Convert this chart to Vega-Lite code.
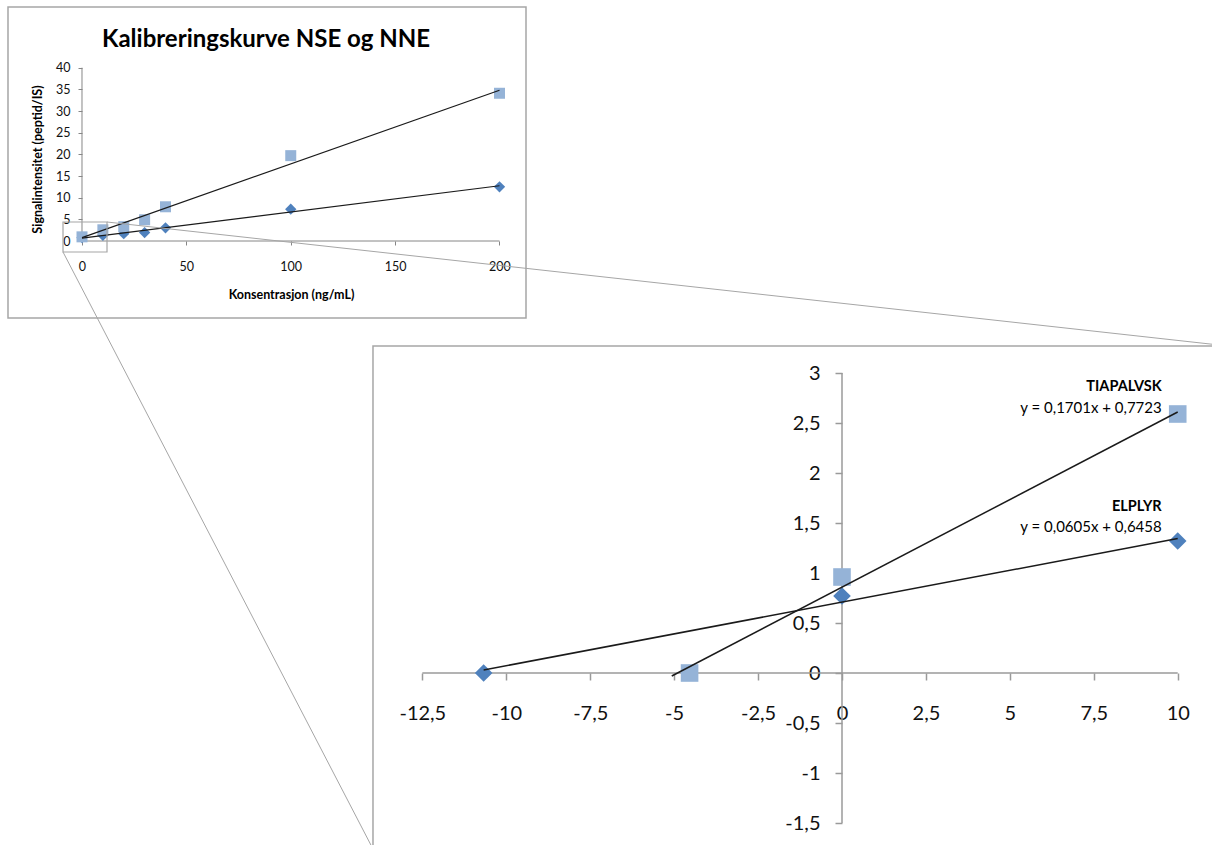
{
  "$schema": "https://vega.github.io/schema/vega-lite/v6.json",
  "width": 1212,
  "height": 845,
  "padding": 0,
  "autosize": {"type": "none"},
  "background": "white",
  "config": {"view": {"stroke": null}, "font": "Lato"},
  "title": {"text": "Kalibreringskurve NSE og NNE", "anchor": "middle", "frame": "group", "orient": "top", "offset": 0, "dx": -340, "dy": 71, "baseline": "alphabetic", "fontSize": 24, "font": "Lato", "fontWeight": "bold", "color": "#000"},
  "datasets": {
    "smallPts": [
      {"series": "ELPLYR", "conc": 0, "signal": 0.77},
      {"series": "ELPLYR", "conc": 10, "signal": 1.32},
      {"series": "ELPLYR", "conc": 20, "signal": 1.7},
      {"series": "ELPLYR", "conc": 30, "signal": 1.95},
      {"series": "ELPLYR", "conc": 40, "signal": 3.05},
      {"series": "ELPLYR", "conc": 100, "signal": 7.35},
      {"series": "ELPLYR", "conc": 200, "signal": 12.5},
      {"series": "TIAPALVSK", "conc": 0, "signal": 0.96},
      {"series": "TIAPALVSK", "conc": 10, "signal": 2.59},
      {"series": "TIAPALVSK", "conc": 20, "signal": 3.3},
      {"series": "TIAPALVSK", "conc": 30, "signal": 4.9},
      {"series": "TIAPALVSK", "conc": 40, "signal": 7.9},
      {"series": "TIAPALVSK", "conc": 100, "signal": 19.7},
      {"series": "TIAPALVSK", "conc": 200, "signal": 34.1}
    ],
    "smallTrend": [
      {"series": "ELPLYR", "conc": 0, "signal": 0.6458},
      {"series": "ELPLYR", "conc": 200, "signal": 12.7458},
      {"series": "TIAPALVSK", "conc": 0, "signal": 0.7723},
      {"series": "TIAPALVSK", "conc": 200, "signal": 34.7923}
    ],
    "bigPts": [
      {"series": "ELPLYR", "x": -10.674, "y": 0},
      {"series": "ELPLYR", "x": 0, "y": 0.77},
      {"series": "ELPLYR", "x": 10, "y": 1.32},
      {"series": "TIAPALVSK", "x": -4.54, "y": 0},
      {"series": "TIAPALVSK", "x": 0, "y": 0.96},
      {"series": "TIAPALVSK", "x": 10, "y": 2.59}
    ],
    "bigTrend": [
      {"series": "ELPLYR", "x": -10.674, "y": 0.03},
      {"series": "ELPLYR", "x": 10, "y": 1.345},
      {"series": "TIAPALVSK", "x": -5.07, "y": -0.03},
      {"series": "TIAPALVSK", "x": 10, "y": 2.61}
    ]
  },
  "layer": [
    {
      "data": {"values": [{}]},
      "mark": {"type": "rect", "fillOpacity": 0, "stroke": "#A6A6A6", "strokeWidth": 1.5},
      "encoding": {
        "x": {"datum": -35.449, "type": "quantitative", "scale": {"domain": [-39.281, 541.317], "nice": false, "zero": false}, "axis": null},
        "x2": {"datum": 212.695},
        "y": {"datum": -17.773, "type": "quantitative", "scale": {"domain": [-139.411, 55.626], "nice": false, "zero": false}, "axis": null},
        "y2": {"datum": 54.01}
      }
    },
    {
      "data": {"values": [{}]},
      "mark": {"type": "rule", "color": "#868686", "strokeWidth": 1},
      "encoding": {
        "x": {"datum": 0, "type": "quantitative", "scale": {"domain": [-39.281, 541.317], "nice": false, "zero": false}, "axis": null},
        "x2": {"datum": 200},
        "y": {"datum": 0, "type": "quantitative", "scale": {"domain": [-139.411, 55.626], "nice": false, "zero": false}, "axis": null}
      }
    },
    {
      "data": {"values": [{}]},
      "mark": {"type": "rule", "color": "#868686", "strokeWidth": 1},
      "encoding": {
        "x": {"datum": 0, "type": "quantitative", "scale": {"domain": [-39.281, 541.317], "nice": false, "zero": false}, "axis": null},
        "y": {"datum": 0, "type": "quantitative", "scale": {"domain": [-139.411, 55.626], "nice": false, "zero": false}, "axis": null},
        "y2": {"datum": 40}
      }
    },
    {
      "data": {"name": "smallPts"},
      "transform": [{"filter": "datum.series === 'ELPLYR'"}],
      "mark": {"type": "point", "shape": "diamond", "filled": true, "size": 128, "color": "#4F81BD", "opacity": 1},
      "encoding": {
        "x": {"field": "conc", "type": "quantitative", "scale": {"domain": [-39.281, 541.317], "nice": false, "zero": false},
          "axis": {"orient": "bottom", "offset": -604, "values": [0, 50, 100, 150, 200], "domain": false, "grid": false, "ticks": true, "tickSize": 4, "tickColor": "#868686", "labelFontSize": 12.5, "labelFont": "Lato", "labelColor": "#111", "labelPadding": 15, "labelOverlap": false, "labelFlush": false, "labelBound": false,
            "title": "Konsentrasjon (ng/mL)", "titleX": 291, "titleY": 53, "titleFontSize": 12.5, "titleFont": "Lato", "titleFontWeight": "bold", "titleAlign": "center", "titleBaseline": "middle", "titleAngle": 0, "titleColor": "#000"}},
        "y": {"field": "signal", "type": "quantitative", "scale": {"domain": [-139.411, 55.626], "nice": false, "zero": false},
          "axis": {"orient": "left", "offset": -82, "values": [0, 5, 10, 15, 20, 25, 30, 35, 40], "domain": false, "grid": false, "ticks": true, "tickSize": 4, "tickColor": "#868686", "labelFontSize": 12.5, "labelFont": "Lato", "labelColor": "#111", "labelPadding": 8, "labelOverlap": false, "labelFlush": false, "labelBound": false,
            "title": "Signalintensitet (peptid/IS)", "titleX": -45, "titleY": 159, "titleFontSize": 12.5, "titleFont": "Lato", "titleFontWeight": "bold", "titleAlign": "center", "titleBaseline": "middle", "titleAngle": 270, "titleColor": "#000"}}
      }
    },
    {
      "data": {"name": "smallPts"},
      "transform": [{"filter": "datum.series === 'TIAPALVSK'"}],
      "mark": {"type": "point", "shape": "square", "filled": true, "size": 121, "color": "#95B3D7", "opacity": 1},
      "encoding": {
        "x": {"field": "conc", "type": "quantitative", "scale": {"domain": [-39.281, 541.317], "nice": false, "zero": false}, "axis": null},
        "y": {"field": "signal", "type": "quantitative", "scale": {"domain": [-139.411, 55.626], "nice": false, "zero": false}, "axis": null}
      }
    },
    {
      "data": {"name": "smallTrend"},
      "mark": {"type": "line", "color": "#1a1a1a", "strokeWidth": 1.2},
      "encoding": {
        "x": {"field": "conc", "type": "quantitative", "scale": {"domain": [-39.281, 541.317], "nice": false, "zero": false}, "axis": null},
        "y": {"field": "signal", "type": "quantitative", "scale": {"domain": [-139.411, 55.626], "nice": false, "zero": false}, "axis": null},
        "detail": {"field": "series"}
      }
    },
    {
      "data": {"values": [{}]},
      "mark": {"type": "rect", "fillOpacity": 0, "stroke": "#A6A6A6", "strokeWidth": 1.2},
      "encoding": {
        "x": {"datum": -9.10, "type": "quantitative", "scale": {"domain": [-39.281, 541.317], "nice": false, "zero": false}, "axis": null},
        "x2": {"datum": 11.98},
        "y": {"datum": -2.539, "type": "quantitative", "scale": {"domain": [-139.411, 55.626], "nice": false, "zero": false}, "axis": null},
        "y2": {"datum": 4.385}
      }
    },
    {
      "data": {"values": [{}]},
      "mark": {"type": "rect", "fillOpacity": 0, "stroke": "#A6A6A6", "strokeWidth": 1.5},
      "encoding": {
        "x": {"datum": -13.970, "type": "quantitative", "scale": {"domain": [-25.080, 11.021], "nice": false, "zero": false}, "axis": null},
        "x2": {"datum": 11.5},
        "y": {"datum": -1.76, "type": "quantitative", "scale": {"domain": [-1.72, 6.73], "nice": false, "zero": false}, "axis": null},
        "y2": {"datum": 3.27}
      }
    },
    {
      "data": {"values": [{}]},
      "mark": {"type": "rule", "color": "#A6A6A6", "strokeWidth": 1},
      "encoding": {
        "x": {"datum": -21.893, "type": "quantitative", "scale": {"domain": [-25.080, 11.021], "nice": false, "zero": false}, "axis": null},
        "x2": {"datum": 11.5},
        "y": {"datum": 4.51, "type": "quantitative", "scale": {"domain": [-1.72, 6.73], "nice": false, "zero": false}, "axis": null},
        "y2": {"datum": 3.27}
      }
    },
    {
      "data": {"values": [{}]},
      "mark": {"type": "rule", "color": "#A6A6A6", "strokeWidth": 1},
      "encoding": {
        "x": {"datum": -23.203, "type": "quantitative", "scale": {"domain": [-25.080, 11.021], "nice": false, "zero": false}, "axis": null},
        "x2": {"datum": -13.970},
        "y": {"datum": 4.21, "type": "quantitative", "scale": {"domain": [-1.72, 6.73], "nice": false, "zero": false}, "axis": null},
        "y2": {"datum": -1.76}
      }
    },
    {
      "data": {"values": [{}]},
      "mark": {"type": "rule", "color": "#9A9A9A", "strokeWidth": 1.5},
      "encoding": {
        "x": {"datum": -12.5, "type": "quantitative", "scale": {"domain": [-25.080, 11.021], "nice": false, "zero": false}, "axis": null},
        "x2": {"datum": 10},
        "y": {"datum": 0, "type": "quantitative", "scale": {"domain": [-1.72, 6.73], "nice": false, "zero": false}, "axis": null}
      }
    },
    {
      "data": {"values": [{}]},
      "mark": {"type": "rule", "color": "#9A9A9A", "strokeWidth": 1.5},
      "encoding": {
        "x": {"datum": 0, "type": "quantitative", "scale": {"domain": [-25.080, 11.021], "nice": false, "zero": false}, "axis": null},
        "y": {"datum": -1.5, "type": "quantitative", "scale": {"domain": [-1.72, 6.73], "nice": false, "zero": false}, "axis": null},
        "y2": {"datum": 3}
      }
    },
    {
      "data": {"name": "bigPts"},
      "transform": [{"filter": "datum.series === 'ELPLYR'"}],
      "mark": {"type": "point", "shape": "diamond", "filled": true, "size": 310, "color": "#4F81BD", "opacity": 1},
      "encoding": {
        "x": {"field": "x", "type": "quantitative", "scale": {"domain": [-25.080, 11.021], "nice": false, "zero": false},
          "axis": {"orient": "bottom", "offset": -172, "values": [-12.5, -10, -7.5, -5, -2.5, 0, 2.5, 5, 7.5, 10], "domain": false, "grid": false, "ticks": true, "tickSize": 7, "tickWidth": 1.5, "tickColor": "#9A9A9A", "labelFontSize": 20, "labelFont": "Lato", "labelColor": "#111", "labelPadding": 23, "labelExpr": "replace(toString(datum.value), '.', ',')", "labelOverlap": false, "labelFlush": false, "labelBound": false, "title": null}},
        "y": {"field": "y", "type": "quantitative", "scale": {"domain": [-1.72, 6.73], "nice": false, "zero": false},
          "axis": {"orient": "left", "offset": -842, "values": [-1.5, -1, -0.5, 0, 0.5, 1, 1.5, 2, 2.5, 3], "domain": false, "grid": false, "ticks": true, "tickSize": 7, "tickWidth": 1.5, "tickColor": "#9A9A9A", "labelFontSize": 20, "labelFont": "Lato", "labelColor": "#111", "labelPadding": 15, "labelExpr": "replace(toString(datum.value), '.', ',')", "labelOverlap": false, "labelFlush": false, "labelBound": false, "title": null}}
      }
    },
    {
      "data": {"name": "bigPts"},
      "transform": [{"filter": "datum.series === 'TIAPALVSK'"}],
      "mark": {"type": "point", "shape": "square", "filled": true, "size": 310, "color": "#95B3D7", "opacity": 1},
      "encoding": {
        "x": {"field": "x", "type": "quantitative", "scale": {"domain": [-25.080, 11.021], "nice": false, "zero": false}, "axis": null},
        "y": {"field": "y", "type": "quantitative", "scale": {"domain": [-1.72, 6.73], "nice": false, "zero": false}, "axis": null}
      }
    },
    {
      "data": {"name": "bigTrend"},
      "mark": {"type": "line", "color": "#1a1a1a", "strokeWidth": 1.5},
      "encoding": {
        "x": {"field": "x", "type": "quantitative", "scale": {"domain": [-25.080, 11.021], "nice": false, "zero": false}, "axis": null},
        "y": {"field": "y", "type": "quantitative", "scale": {"domain": [-1.72, 6.73], "nice": false, "zero": false}, "axis": null},
        "detail": {"field": "series"}
      }
    },
    {
      "data": {"values": [{}]},
      "mark": {"type": "text", "text": "TIAPALVSK", "align": "right", "baseline": "middle", "fontSize": 14.5, "fontWeight": "bold", "font": "Lato", "color": "#000"},
      "encoding": {
        "x": {"datum": 9.523, "type": "quantitative", "scale": {"domain": [-25.080, 11.021], "nice": false, "zero": false}, "axis": null},
        "y": {"datum": 2.863, "type": "quantitative", "scale": {"domain": [-1.72, 6.73], "nice": false, "zero": false}, "axis": null}
      }
    },
    {
      "data": {"values": [{}]},
      "mark": {"type": "text", "text": "y = 0,1701x + 0,7723", "align": "right", "baseline": "middle", "fontSize": 15, "font": "Lato", "color": "#000"},
      "encoding": {
        "x": {"datum": 9.523, "type": "quantitative", "scale": {"domain": [-25.080, 11.021], "nice": false, "zero": false}, "axis": null},
        "y": {"datum": 2.653, "type": "quantitative", "scale": {"domain": [-1.72, 6.73], "nice": false, "zero": false}, "axis": null}
      }
    },
    {
      "data": {"values": [{}]},
      "mark": {"type": "text", "text": "ELPLYR", "align": "right", "baseline": "middle", "fontSize": 14.5, "fontWeight": "bold", "font": "Lato", "color": "#000"},
      "encoding": {
        "x": {"datum": 9.523, "type": "quantitative", "scale": {"domain": [-25.080, 11.021], "nice": false, "zero": false}, "axis": null},
        "y": {"datum": 1.663, "type": "quantitative", "scale": {"domain": [-1.72, 6.73], "nice": false, "zero": false}, "axis": null}
      }
    },
    {
      "data": {"values": [{}]},
      "mark": {"type": "text", "text": "y = 0,0605x + 0,6458", "align": "right", "baseline": "middle", "fontSize": 15, "font": "Lato", "color": "#000"},
      "encoding": {
        "x": {"datum": 9.523, "type": "quantitative", "scale": {"domain": [-25.080, 11.021], "nice": false, "zero": false}, "axis": null},
        "y": {"datum": 1.463, "type": "quantitative", "scale": {"domain": [-1.72, 6.73], "nice": false, "zero": false}, "axis": null}
      }
    }
  ],
  "resolve": {"scale": {"x": "independent", "y": "independent"}, "axis": {"x": "independent", "y": "independent"}}
}
